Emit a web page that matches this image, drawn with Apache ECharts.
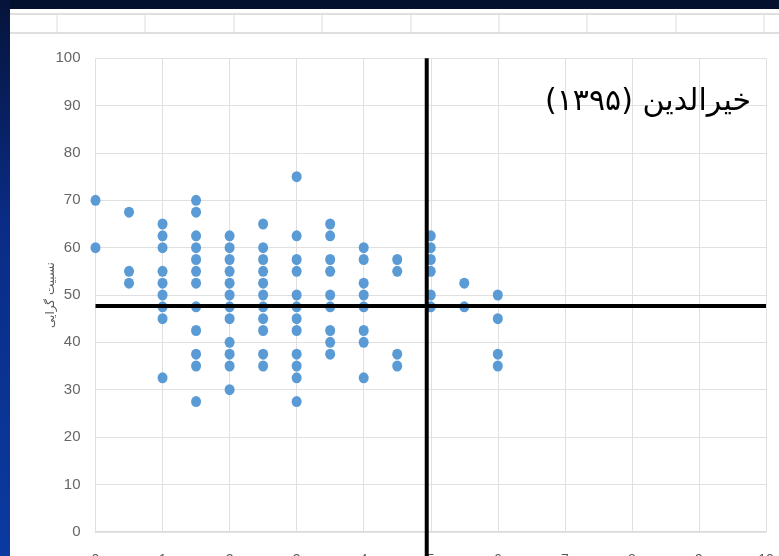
<!DOCTYPE html>
<html>
<head>
<meta charset="utf-8">
<script src="https://cdn.jsdelivr.net/npm/echarts@6/dist/echarts.min.js"></script>
<style>html,body{margin:0;padding:0;background:#fff}#c{width:779px;height:556px}</style>
</head>
<body>
<div id="c"></div>
<script>
// x positions of the dot columns
const xValues = [0, 0.5, 1, 1.5, 2, 2.5, 3, 3.5, 4, 4.5, 5, 5.5, 6];
// y values of the dots in each column
const yByX = [
  [70, 60],
  [67.5, 55, 52.5],
  [65, 62.5, 60, 55, 52.5, 50, 47.5, 45, 32.5],
  [70, 67.5, 62.5, 60, 57.5, 55, 52.5, 47.5, 42.5, 37.5, 35, 27.5],
  [62.5, 60, 57.5, 55, 52.5, 50, 47.5, 45, 40, 37.5, 35, 30],
  [65, 60, 57.5, 55, 52.5, 50, 47.5, 45, 42.5, 37.5, 35],
  [75, 62.5, 57.5, 55, 50, 47.5, 45, 42.5, 37.5, 35, 32.5, 27.5],
  [65, 62.5, 57.5, 55, 50, 47.5, 42.5, 40, 37.5],
  [60, 57.5, 52.5, 50, 47.5, 42.5, 40, 32.5],
  [57.5, 55, 37.5, 35],
  [62.5, 60, 57.5, 55, 50, 47.5],
  [52.5, 47.5],
  [50, 45, 37.5, 35]
];
// mean lines
const meanX = 4.94;
const meanY = 47.8;
const verticalSpan = [100, -6];
const yTicks = [0, 10, 20, 30, 40, 50, 60, 70, 80, 90, 100];
const xTicks = [0, 1, 2, 3, 4, 5, 6, 7, 8, 9, 10];
const titleText = '\u200Fخیرالدین (۱۳۹۵)\u200F';
const yName = 'نسبیت گرایی';

const points = [];
xValues.forEach((x, i) => yByX[i].forEach(y => points.push([x, y])));

const chart = echarts.init(document.getElementById('c'), null, {renderer: 'canvas'});

// decorative slide frame + spreadsheet strip
const sheetCols = [57, 145, 234, 322, 411, 499, 587, 676, 764];
const graphics = [
  {type: 'rect', shape: {x: 0, y: 0, width: 779, height: 9}, style: {fill: '#04112e'}, z: 100},
  {type: 'rect', shape: {x: 0, y: 0, width: 10, height: 556},
   style: {fill: new echarts.graphic.LinearGradient(0, 0, 0, 1, [{offset: 0, color: '#06143a'}, {offset: 0.4, color: '#0a2c86'}, {offset: 1, color: '#0b3aa0'}])}, z: 100},
  {type: 'line', shape: {x1: 10, y1: 14, x2: 779, y2: 14}, style: {stroke: '#d4d4d4', lineWidth: 1.5}, z: 1},
  {type: 'line', shape: {x1: 10, y1: 33, x2: 779, y2: 33}, style: {stroke: '#d4d4d4', lineWidth: 1.5}, z: 1}
];
sheetCols.forEach(x => graphics.push({type: 'line', shape: {x1: x, y1: 14, x2: x, y2: 33}, style: {stroke: '#dcdcdc', lineWidth: 1}, z: 1}));

chart.setOption({
  backgroundColor: '#ffffff',
  animation: false,
  graphic: graphics,
  title: {
    text: titleText,
    right: 23,
    top: 82,
    textStyle: {fontFamily: 'DejaVu Sans', fontSize: 30, fontWeight: 'normal', color: '#000'}
  },
  grid: {left: 95.5, right: 13, top: 58.3, bottom: 24.3, containLabel: false, outerBoundsMode: 'none'},
  xAxis: {
    type: 'value', min: 0, max: 10, interval: 1,
    axisLine: {show: true, lineStyle: {color: '#d9d9d9', width: 1.5}},
    axisTick: {show: false},
    splitLine: {show: true, lineStyle: {color: '#e0e0e0', width: 1}},
    axisLabel: {margin: 21, color: '#595959', fontSize: 14, fontFamily: 'Liberation Sans Narrow, Liberation Sans, sans-serif',
      formatter: v => xTicks.includes(v) ? String(v) : ''}
  },
  yAxis: {
    type: 'value', min: 0, max: 100, interval: 10,
    name: yName, nameLocation: 'middle', nameRotate: 90, nameGap: 39, nameMoveOverlap: false,
    nameTextStyle: {fontFamily: 'DejaVu Sans', fontSize: 12, color: '#595959'},
    axisLine: {show: false},
    axisTick: {show: false},
    splitLine: {show: true, lineStyle: {color: '#e0e0e0', width: 1}},
    axisLabel: {margin: 15, color: '#666666', fontSize: 15, fontFamily: 'Liberation Sans Narrow, Liberation Sans, sans-serif',
      formatter: v => yTicks.includes(v) ? String(v) : ''}
  },
  series: [
    {
      type: 'scatter',
      data: points,
      symbol: 'circle',
      symbolSize: [10, 11],
      itemStyle: {color: '#5b9bd5', opacity: 1},
      z: 3,
      markLine: {
        silent: true, symbol: 'none', label: {show: false},
        lineStyle: {color: '#000', width: 4, type: 'solid'},
        data: [{yAxis: meanY}]
      }
    },
    {
      type: 'line',
      data: verticalSpan.map(y => [meanX, y]),
      clip: false,
      symbol: 'none',
      lineStyle: {color: '#000', width: 4},
      z: 4,
      silent: true
    }
  ]
});
</script>
</body>
</html>
